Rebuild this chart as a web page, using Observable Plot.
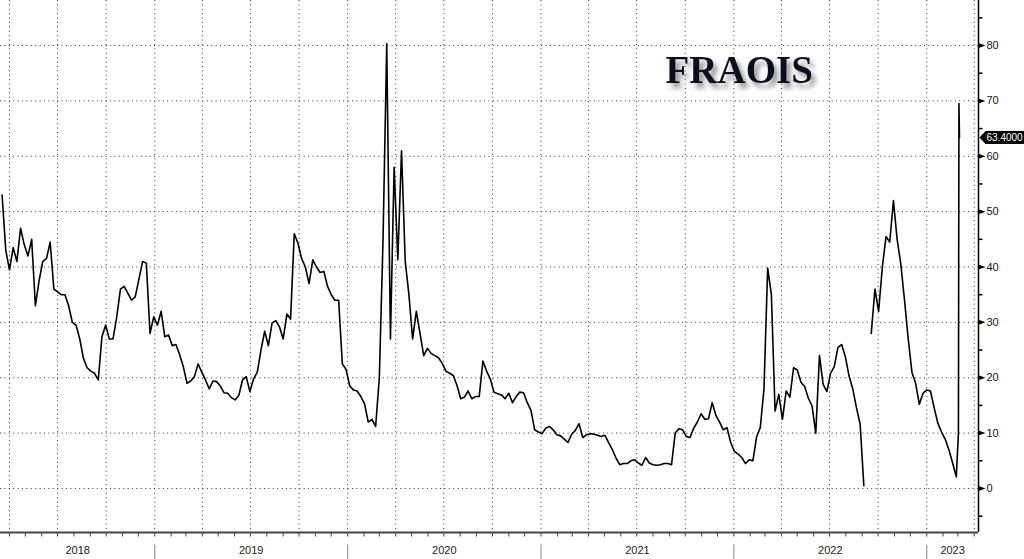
<!DOCTYPE html>
<html>
<head>
<meta charset="utf-8">
<script src="https://cdn.jsdelivr.net/npm/d3@7"></script>
<script src="https://cdn.jsdelivr.net/npm/@observablehq/plot@0.6"></script>
<style>
  html, body { margin: 0; padding: 0; background: #fff; }
  #chart { width: 1024px; height: 559px; overflow: hidden; }
</style>
</head>
<body>
<div id="chart"></div>
<script>
// ---- data ----
const title = "FRAOIS";
const seriesStart = "2018-03-18";   // first weekly observation
const weeklyValues = [
  53, 43, 39.5, 43.5, 41, 47, 44, 42, 45, 33,
  37.5, 41, 41.5, 44.5, 36, 35.5, 35, 35, 33, 30,
  29.5, 27, 23.5, 21.8, 21.2, 20.8, 19.6, 27.4, 29.5, 27,
  27, 31, 36, 36.5, 35.3, 34, 34.6, 37.8, 41, 40.7,
  28, 31, 29.5, 32, 27.4, 27.7, 25.8, 26, 24.2, 22,
  19, 19.4, 20.2, 22.5, 21, 19.6, 18, 19.4, 19.3, 18.5,
  17.3, 17.2, 16.4, 16, 16.8, 19.6, 20.2, 17.5, 19.8, 21,
  25, 28.4, 25.8, 29.9, 30.3, 29.2, 27, 31.5, 30.6, 46,
  44.3, 41.5, 40, 37, 41.3, 40, 39, 39.2, 36.5, 35,
  34, 34, 22.5, 21.5, 18.5, 17.8, 17.6, 16.6, 15.3, 12,
  12.5, 11.2, 20, 45, 80.3, 27, 58, 41.3, 61, 41,
  35, 27, 32, 28, 24, 25.3, 24.4, 24, 23.6, 22.6,
  21.2, 20.8, 20.4, 18.6, 16.2, 16.5, 17.6, 16.2, 16.6, 16.6,
  23, 21.2, 19.8, 17.4, 17.1, 16.9, 16.2, 17.2, 15.5, 16.6,
  17.4, 17.3, 15.5, 14.1, 10.6, 10.2, 9.9, 10.9, 11.2, 10.6,
  9.7, 9.5, 8.9, 8.3, 9.8, 10.5, 11.7, 9.2, 9.7, 9.9,
  9.8, 9.6, 9.4, 9.6, 8.3, 7, 5.5, 4.3, 4.5, 4.5,
  5, 5.2, 4.6, 4.2, 5.6, 4.6, 4.3, 4.2, 4.3, 4.5,
  4.5, 4.3, 10, 10.8, 10.6, 9.4, 9.2, 10.9, 12, 13.5,
  12.5, 12.6, 15.5, 13.2, 12, 10.6, 11, 8.3, 6.7, 6.2,
  5.6, 4.5, 5.2, 5, 9.3, 11, 18, 39.8, 35, 14,
  17, 12.5, 17.6, 16.5, 21.8, 21.4, 19.2, 18.4, 16.3, 14.9,
  10, 24, 18.8, 17.5, 20.8, 22, 25.5, 26, 23.8, 20.3,
  18, 14.6, 11.6, 0.5, null, 28, 36, 32, 40, 45.5,
  44.5, 52, 45, 40.5, 34, 27, 21, 19, 15.2, 17.2,
  17.8, 17.6, 14.6, 11.8, 10.2, 8.9, 7, 4.6, 2.1
];
const finalDates = ["2023-03-02", "2023-03-03", "2023-03-04"];
const finalValues = [10, 69.5, 63.4];
const lastLabel = "63.4000";

const yTicks = [0, 10, 20, 30, 40, 50, 60, 70, 80];
const yMinorTicks = [-5, 5, 15, 25, 35, 45, 55, 65, 75, 85];
const yearLabels = ["2018", "2019", "2020", "2021", "2022", "2023"];
const xDomain = ["2018-03-15", "2023-04-09"];
const yDomain = [-7.95, 88.13];

// ---- build tables ----
const start = new Date(seriesStart);
const data = weeklyValues
  .map((v, i) => ({date: d3.utcDay.offset(start, 7 * i), value: v == null ? NaN : v}))
  .concat(finalDates.map((d, i) => ({date: new Date(d), value: finalValues[i]})));

const x0 = new Date(xDomain[0]), x1 = new Date(xDomain[1]);
const yearStarts = yearLabels.slice(1).map(y => new Date(y + "-01-01"));
const yearMids = yearLabels.map(y => {
  const a = d3.max([x0, new Date(y + "-01-01")]);
  const b = d3.min([x1, new Date((+y + 1) + "-01-01")]);
  return new Date((+a + +b) / 2);
});
const quarters = d3.utcMonth.every(3).range(new Date("2018-04-01"), x1);
const months = d3.utcMonth.range(new Date("2018-04-01"), x1);

// ---- symbols for axis decorations ----
const majorTick = {draw(c) { c.moveTo(0, -2.5); c.lineTo(7, 0); c.lineTo(0, 2.5); c.closePath(); }};
const minorTick = {draw(c) { c.moveTo(0, 0); c.lineTo(4, 0); }};
const monthTick = {draw(c) { c.moveTo(0, 0); c.lineTo(0, 4); }};
const yearSep = {draw(c) { c.moveTo(0, 12); c.lineTo(0, 27); }};
const labelBox = {draw(c) {
  c.moveTo(1, 0); c.lineTo(7, -6.5); c.lineTo(47, -6.5); c.lineTo(47, 6.5); c.lineTo(7, 6.5); c.closePath();
}};

const font = "Liberation Sans, Arial, sans-serif";
const dots = "1,3.4";

const svg = Plot.plot({
  width: 1024,
  height: 559,
  marginTop: 0,
  marginLeft: 0,
  marginRight: 46,
  marginBottom: 27,
  style: {background: "#fff", color: "#000", fontFamily: font},
  x: {type: "utc", domain: [x0, x1], axis: null},
  y: {domain: yDomain, axis: null},
  marks: [
    // grid
    Plot.ruleY(yTicks, {stroke: "#333", strokeDasharray: dots, strokeWidth: 1}),
    Plot.ruleX(quarters, {stroke: "#333", strokeDasharray: dots, strokeWidth: 1}),
    // title (soft drop shadow added below)
    Plot.text([title], {frameAnchor: "top-left", dx: 665, dy: 70, text: d => d, textAnchor: "start",
      lineAnchor: "middle", fontFamily: "Liberation Serif, Times New Roman, serif", fontWeight: "bold",
      fontSize: 39, fill: "#0a0a1c"}),
    // series
    Plot.line(data, {x: "date", y: "value", stroke: "#000", strokeWidth: 1.6}),
    // axes lines
    Plot.ruleY([yDomain[0]], {stroke: "#444", strokeWidth: 2}),
    Plot.ruleX([x1], {stroke: "#000", strokeWidth: 1.5}),
    // x ticks, separators, year labels
    Plot.dot(months, {x: d => d, frameAnchor: "bottom", symbol: monthTick, stroke: "#444", fill: "none", strokeWidth: 1}),
    Plot.dot(yearStarts, {x: d => d, frameAnchor: "bottom", symbol: yearSep, stroke: "#999", fill: "none", strokeWidth: 1.2}),
    Plot.text(yearMids, {x: d => d, frameAnchor: "bottom", dy: 21, text: (d, i) => yearLabels[i],
      fontSize: 11, fill: "#222"}),
    // y ticks and labels
    Plot.dot(yTicks, {y: d => d, frameAnchor: "right", symbol: majorTick, fill: "#000", stroke: "none"}),
    Plot.dot(yMinorTicks, {y: d => d, frameAnchor: "right", symbol: minorTick, stroke: "#000", fill: "none"}),
    Plot.text(yTicks, {y: d => d, frameAnchor: "right", dx: 8, textAnchor: "start", text: d => String(d),
      fontSize: 11, fill: "#111"}),
    // last value label
    Plot.dot([finalValues[finalValues.length - 1]], {y: d => d, frameAnchor: "right", symbol: labelBox, fill: "#000", stroke: "none"}),
    Plot.text([finalValues[finalValues.length - 1]], {y: d => d, frameAnchor: "right", dx: 8, textAnchor: "start",
      text: () => lastLabel, fontSize: 10, fill: "#fff"})
  ]
});

// soft drop shadow for the title
const root = d3.select(svg);
const defs = root.insert("defs", ":first-child");
defs.append("filter").attr("id", "titleShadow")
  .attr("x", "-20%").attr("y", "-40%").attr("width", "150%").attr("height", "200%")
  .append("feDropShadow")
  .attr("dx", 4).attr("dy", 5).attr("stdDeviation", 2.6)
  .attr("flood-color", "#7a7a7a").attr("flood-opacity", 0.8);
root.selectAll("text").filter(function() { return this.textContent === title; })
  .attr("filter", "url(#titleShadow)");

document.getElementById("chart").appendChild(svg);
</script>
</body>
</html>
